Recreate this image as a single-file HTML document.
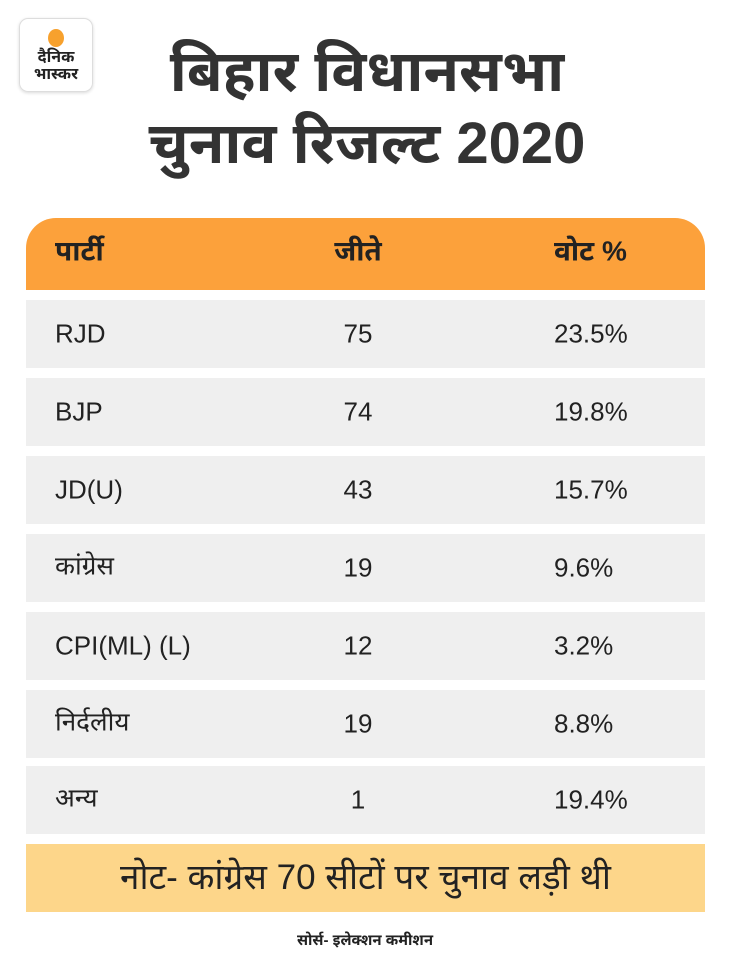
<!DOCTYPE html>
<html><head><meta charset="utf-8"><style>
*{margin:0;padding:0;box-sizing:border-box}
body{width:730px;height:966px;background:#fff;position:relative;overflow:hidden;font-family:"Liberation Sans","Noto Sans Devanagari","Lohit Devanagari",sans-serif;color:#222}
.logo{position:absolute;left:19px;top:18px;width:74px;height:74px;border:1px solid #ddd;border-radius:9px;box-shadow:0 1px 3px rgba(0,0,0,.15);text-align:center;font-weight:bold;font-size:16px;line-height:17px;color:#222}
.logo .dot{width:16px;height:18px;border-radius:50%;background:#f7a12d;margin:10px auto 2px}
.title{position:absolute;left:70px;width:594px;text-align:center;font-weight:bold;font-size:58px;color:#333;line-height:64px}
.hdr{position:absolute;left:26px;top:218px;width:679px;height:72px;background:#fca13b;border-radius:30px 30px 0 0}
.row{position:absolute;left:26px;width:679px;height:68px;background:#efefef}
.c{position:absolute;top:50%;transform:translateY(-50%);font-size:26px;white-space:nowrap}
.c1{left:29px}.c2{left:302px;width:60px;text-align:center}.c3{left:528px}
.hdr .c{font-weight:bold;font-size:28px}
.note{position:absolute;left:26px;top:844px;width:679px;height:68px;background:#fdd68a;text-align:center;font-size:35px;line-height:68px}
.src{position:absolute;left:0;width:730px;top:932px;text-align:center;font-weight:bold;font-size:15px}
</style></head><body>
<div class="logo"><div class="dot"></div>दैनिक<br>भास्कर</div>
<div class="title" style="top:40px">बिहार विधानसभा</div>
<div class="title" style="top:112px">चुनाव रिजल्ट 2020</div>
<div class="hdr"><span class="c c1">पार्टी</span><span class="c c2">जीते</span><span class="c c3">वोट %</span></div>
<div class="row" style="top:300px"><span class="c c1">RJD</span><span class="c c2">75</span><span class="c c3">23.5%</span></div>
<div class="row" style="top:378px"><span class="c c1">BJP</span><span class="c c2">74</span><span class="c c3">19.8%</span></div>
<div class="row" style="top:456px"><span class="c c1">JD(U)</span><span class="c c2">43</span><span class="c c3">15.7%</span></div>
<div class="row" style="top:534px"><span class="c c1">कांग्रेस</span><span class="c c2">19</span><span class="c c3">9.6%</span></div>
<div class="row" style="top:612px"><span class="c c1">CPI(ML) (L)</span><span class="c c2">12</span><span class="c c3">3.2%</span></div>
<div class="row" style="top:690px"><span class="c c1">निर्दलीय</span><span class="c c2">19</span><span class="c c3">8.8%</span></div>
<div class="row" style="top:766px"><span class="c c1">अन्य</span><span class="c c2">1</span><span class="c c3">19.4%</span></div>
<div class="note">नोट- कांग्रेस 70 सीटों पर चुनाव लड़ी थी</div>
<div class="src">सोर्स- इलेक्शन कमीशन</div>
</body></html>
